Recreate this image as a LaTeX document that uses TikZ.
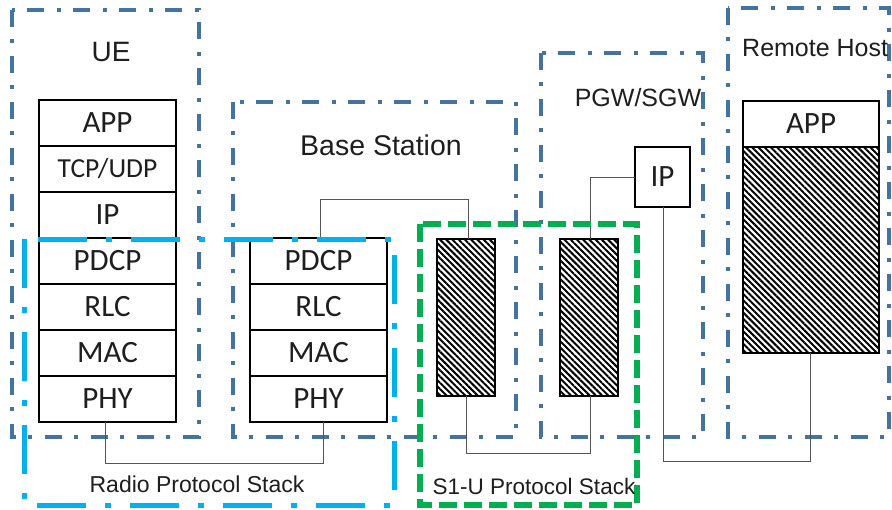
\documentclass[tikz,border=0pt]{standalone}
\usepackage{fontspec}
\setmainfont{Liberation Sans}
\newfontfamily\layerfont{Carlito}
\usetikzlibrary{patterns.meta,calc}
\definecolor{steel}{HTML}{44739F}
\definecolor{sky}{HTML}{00B0F0}
\definecolor{grn}{HTML}{00B050}
\definecolor{conncol}{HTML}{555555}
\definecolor{txt}{HTML}{1E1E1E}
\tikzset{
  group/.style={draw=steel, line width=4pt, dash pattern=on 17pt off 12pt on 4pt off 13pt},
  radiogrp/.style={draw=sky, line width=5pt, dash pattern=on 49pt off 19pt on 6pt off 19pt},
  s1grp/.style={draw=grn, line width=5.5pt, dash pattern=on 18pt off 7pt},
  layer/.style={draw=black, line width=1.8pt, minimum width=137pt, minimum height=46pt,
    inner sep=0pt, outer sep=0pt, font=\layerfont\fontsize{31}{34}\selectfont, text=txt},
  hatch/.style={draw=black, line width=2pt, inner sep=0pt, outer sep=0pt,
    pattern={Lines[angle=-45, distance=4.4pt, line width=2pt]}},
  conn/.style={draw=conncol, line width=1pt},
  title/.style={inner sep=0pt, font=\fontsize{28}{31}\selectfont, text=txt},
  sublbl/.style={inner sep=0pt, font=\fontsize{23}{26}\selectfont, text=txt},
}
\begin{document}
\begin{tikzpicture}[x=1pt,y=-1pt]
\fill[white] (0,0) rectangle (892,509);
\useasboundingbox (0,0) rectangle (892,509);

% group boxes
\draw[group] (12,10) rectangle (199,437);
\draw[group] (233,102) rectangle (516,437);
\draw[group] (541,53) rectangle (703,437);
\draw[group] (728,8) rectangle (889,437);

% titles
\node[title] (uelbl) at (111,52) {UE};
\node[title, font=\fontsize{28.5}{31}\selectfont] (bslbl) at (381,145) {Base Station};
\node[title, font=\fontsize{25}{28}\selectfont] (pgwlbl) at (638,98) {PGW/SGW};
\node[title, anchor=west, font=\fontsize{25}{28}\selectfont] (rhlbl) at (742,48) {Remote Host};

% UE stack
\node[layer] (ueapp) at (107.5,123) {APP};
\node[layer, font=\layerfont\fontsize{27.5}{30}\selectfont] (uetcp) at (107.5,169) {TCP/UDP};
\node[layer] (ueip) at (107.5,215) {IP};
\node[layer] (uepdcp) at (107.5,261) {PDCP};
\node[layer] (uerlc) at (107.5,307) {RLC};
\node[layer] (uemac) at (107.5,353) {MAC};
\node[layer] (uephy) at (107.5,399) {PHY};

% Base station stack
\node[layer] (bspdcp) at (318.5,261) {PDCP};
\node[layer] (bsrlc) at (318.5,307) {RLC};
\node[layer] (bsmac) at (318.5,353) {MAC};
\node[layer] (bsphy) at (318.5,399) {PHY};

% S1-U hatched stacks
\node[hatch, minimum width=58pt, minimum height=157pt] (h1) at (466,317.5) {};
\node[hatch, minimum width=58pt, minimum height=157pt] (h2) at (589,317.5) {};

% PGW IP
\node[layer, minimum width=55pt, minimum height=60pt] (pgwip) at (662.5,177) {IP};

% Remote host
\node[layer, minimum width=136pt, minimum height=46pt] (rhapp) at (811,124) {APP};
\node[hatch, minimum width=136pt, minimum height=206pt] (rhlow) at (811,250) {};

% connectors
\draw[conn] ([xshift=-2.5pt]uephy.south) -- ++(0,41) -| ([xshift=4.5pt]bsphy.south);
\draw[conn] ([xshift=1.5pt]bspdcp.north) -- ++(0,-39) -| ([xshift=2pt]h1.north);
\draw[conn] (h1.south) -- ++(0,57) -| ([xshift=1pt]h2.south);
\draw[conn] ([xshift=1pt]h2.north) |- (pgwip.west);
\draw[conn] ([xshift=0.5pt]pgwip.south) -- ++(0,254) -| ([xshift=-1pt]rhlow.south);

% protocol stack groups
\draw[radiogrp] (24,239) rectangle (394,505);
\node[sublbl] (radiolbl) at (197,484) {Radio Protocol Stack};
\draw[s1grp] (420,224) rectangle (637,505);
\node[sublbl, font=\fontsize{22.5}{26}\selectfont] (s1lbl) at (534,486) {S1-U Protocol Stack};
\end{tikzpicture}
\end{document}
